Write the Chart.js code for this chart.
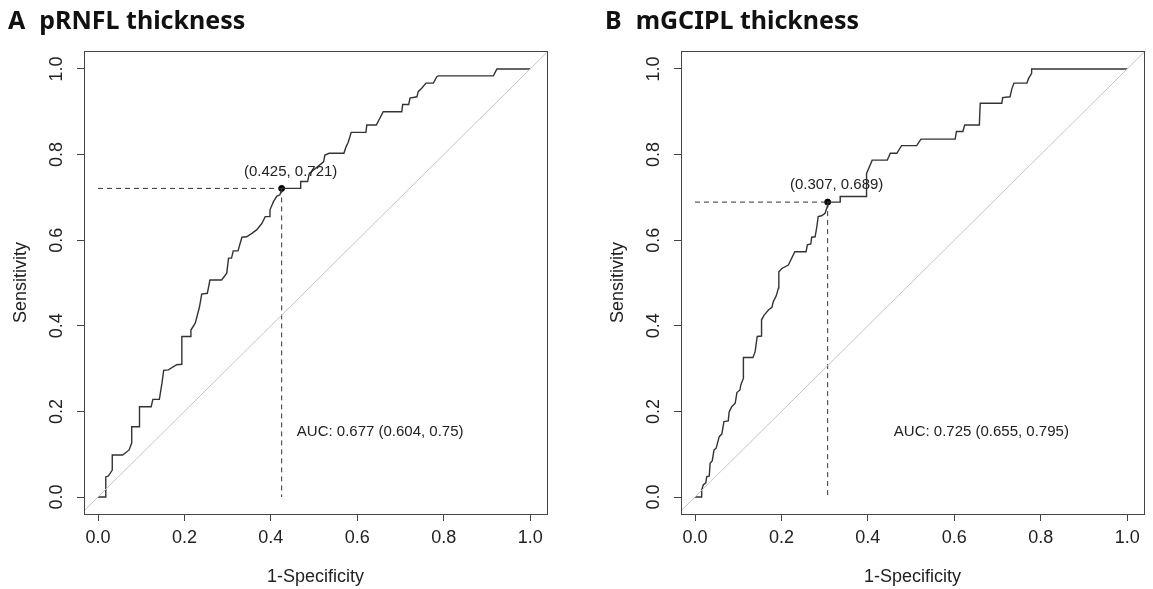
<!DOCTYPE html>
<html>
<head>
<meta charset="utf-8">
<script src="https://cdn.jsdelivr.net/npm/chart.js@4.4.1/dist/chart.umd.min.js"></script>
<style>
  html, body { margin: 0; padding: 0; background: #fff; }
  #wrap { position: relative; width: 1153px; height: 589px; overflow: hidden; }
  .panel { position: absolute; top: 0; width: 556px; height: 589px; }
  .panel canvas { position: absolute; left: 0; top: 0; }
  .ttl { position: absolute; left: 8px; top: 2px; font: bold 25px "Noto Sans", sans-serif; color: #111; white-space: nowrap; }
  .ttl .nm { margin-left: 14px; }
</style>
</head>
<body>
<div id="wrap">
  <div class="panel" style="left:0"><canvas id="rocA" width="556" height="589"></canvas><div class="ttl" id="ttlA"></div></div>
  <div class="panel" style="left:597px"><canvas id="rocB" width="556" height="589"></canvas><div class="ttl" id="ttlB"></div></div>
</div>
<script>
// axis ticks
const tickValues = [0, 0.2, 0.4, 0.6, 0.8, 1.0];
const tickLabels = ['0.0', '0.2', '0.4', '0.6', '0.8', '1.0'];

// panel A: pRNFL thickness (1-specificity, sensitivity)
const fprA = [0, 0.018, 0.018, 0.024, 0.033, 0.033, 0.057, 0.072, 0.078, 0.078, 0.096, 0.096,
  0.123, 0.127, 0.142, 0.148, 0.152, 0.163, 0.182, 0.194, 0.194, 0.213, 0.215, 0.225, 0.229,
  0.235, 0.240, 0.253, 0.259, 0.286, 0.298, 0.302, 0.309, 0.313, 0.324, 0.333, 0.344, 0.356,
  0.367, 0.379, 0.387, 0.397, 0.398, 0.406, 0.414, 0.421, 0.425, 0.469, 0.469, 0.485, 0.489,
  0.522, 0.525, 0.535, 0.569, 0.574, 0.579, 0.586, 0.620, 0.622, 0.644, 0.660, 0.703, 0.705,
  0.719, 0.722, 0.738, 0.741, 0.749, 0.759, 0.776, 0.784, 0.788, 0.915, 0.923, 1.0];
const tprA = [0, 0, 0.047, 0.049, 0.063, 0.098, 0.098, 0.110, 0.126, 0.164, 0.164, 0.211,
  0.211, 0.228, 0.228, 0.266, 0.296, 0.297, 0.309, 0.310, 0.375, 0.375, 0.390, 0.406, 0.421,
  0.445, 0.474, 0.476, 0.507, 0.507, 0.523, 0.558, 0.558, 0.575, 0.575, 0.607, 0.608, 0.616,
  0.624, 0.639, 0.655, 0.655, 0.671, 0.690, 0.703, 0.706, 0.721, 0.721, 0.737, 0.737, 0.756,
  0.783, 0.799, 0.803, 0.803, 0.818, 0.829, 0.852, 0.852, 0.869, 0.869, 0.900, 0.900, 0.917,
  0.917, 0.932, 0.935, 0.947, 0.955, 0.967, 0.967, 0.982, 0.984, 0.984, 1.0, 1.0];
const cutA = [0.425, 0.721];
const aucA = [0.677, 0.604, 0.75];

// panel B: mGCIPL thickness
const fprB = [0, 0.0155, 0.0155, 0.019, 0.025, 0.027, 0.033, 0.035, 0.040, 0.044, 0.049, 0.056,
  0.062, 0.067, 0.077, 0.079, 0.085, 0.093, 0.097, 0.104, 0.106, 0.112, 0.112, 0.134, 0.139,
  0.144, 0.154, 0.154, 0.160, 0.170, 0.178, 0.181, 0.188, 0.193, 0.194, 0.201, 0.216, 0.231,
  0.257, 0.260, 0.268, 0.270, 0.278, 0.282, 0.285, 0.293, 0.301, 0.306, 0.307, 0.336, 0.336,
  0.396, 0.397, 0.410, 0.445, 0.452, 0.467, 0.478, 0.513, 0.523, 0.602, 0.605, 0.620, 0.624,
  0.658, 0.660, 0.710, 0.712, 0.729, 0.733, 0.738, 0.768, 0.772, 0.779, 0.779, 1.0];
const tprB = [0, 0, 0.016, 0.028, 0.033, 0.047, 0.049, 0.079, 0.085, 0.110, 0.114, 0.141,
  0.147, 0.176, 0.178, 0.199, 0.211, 0.219, 0.244, 0.250, 0.262, 0.277, 0.326, 0.326, 0.339,
  0.375, 0.376, 0.414, 0.425, 0.437, 0.443, 0.456, 0.470, 0.488, 0.526, 0.534, 0.542, 0.573,
  0.573, 0.589, 0.591, 0.607, 0.608, 0.632, 0.655, 0.657, 0.663, 0.678, 0.689, 0.689, 0.702,
  0.702, 0.756, 0.787, 0.787, 0.803, 0.803, 0.821, 0.821, 0.836, 0.836, 0.854, 0.854, 0.869,
  0.869, 0.920, 0.920, 0.933, 0.935, 0.953, 0.967, 0.967, 0.978, 0.990, 1.0, 1.0];
const cutB = [0.307, 0.689];
const aucB = [0.725, 0.655, 0.795];

const panelLetters = ['A', 'B'];
const panelTitles = ['pRNFL thickness', 'mGCIPL thickness'];

const FONT = '"Liberation Sans", Arial, sans-serif';
const TXT = '#222';
const LINE = '#333';

// box, rotated y labels, annotations
const rocDecor = {
  id: 'rocDecor',
  afterDraw(chart, args, opts) {
    const ctx = chart.ctx;
    const a = chart.chartArea;
    const xs = chart.scales.x, ys = chart.scales.y;
    ctx.save();
    ctx.strokeStyle = '#444';
    ctx.lineWidth = 1;
    ctx.strokeRect(Math.round(a.left) + 0.5, Math.round(a.top) + 0.5,
      Math.round(a.right - a.left), Math.round(a.bottom - a.top));

    ctx.fillStyle = TXT;
    ctx.font = '18px ' + FONT;
    ctx.textAlign = 'center';
    ctx.textBaseline = 'middle';
    ys.ticks.forEach((t, i) => {
      ctx.save();
      ctx.translate(a.left - 27, ys.getPixelForValue(t.value));
      ctx.rotate(-Math.PI / 2);
      ctx.fillText(tickLabels[i], 0, 0);
      ctx.restore();
    });

    const cut = opts.cut, auc = opts.auc;
    ctx.font = '15px ' + FONT;
    ctx.fillText('(' + cut[0].toFixed(3) + ', ' + cut[1].toFixed(3) + ')',
      xs.getPixelForValue(cut[0]) + 9, ys.getPixelForValue(cut[1]) - 17);
    ctx.textAlign = 'left';
    ctx.fillText('AUC: ' + auc[0] + ' (' + auc[1] + ', ' + auc[2] + ')',
      xs.getPixelForValue(0.46), ys.getPixelForValue(0.152));
    ctx.restore();
  }
};

function makeRoc(id, fpr, tpr, cut, auc) {
  const curve = fpr.map((x, i) => ({ x: x, y: tpr[i] }));
  const dashed = { showLine: true, borderColor: LINE, borderWidth: 1, borderDash: [5, 4], pointRadius: 0 };
  return new Chart(document.getElementById(id), {
    type: 'scatter',
    data: {
      datasets: [
        { data: [{ x: -0.1, y: -0.1 }, { x: 1.1, y: 1.1 }], showLine: true, borderColor: '#c4c4c4', borderWidth: 1, pointRadius: 0 },
        { data: curve, showLine: true, borderColor: LINE, borderWidth: 1.4, pointRadius: 0 },
        Object.assign({ data: [{ x: 0, y: cut[1] }, { x: cut[0], y: cut[1] }] }, dashed),
        Object.assign({ data: [{ x: cut[0], y: cut[1] }, { x: cut[0], y: 0 }] }, dashed),
        { data: [{ x: cut[0], y: cut[1] }], pointRadius: 3, backgroundColor: '#000', borderColor: '#000' }
      ]
    },
    options: {
      responsive: false,
      animation: false,
      events: [],
      layout: { padding: { left: 0, top: 51, right: 9, bottom: 0 } },
      plugins: {
        legend: { display: false },
        tooltip: { enabled: false },
        rocDecor: { cut: cut, auc: auc }
      },
      scales: {
        x: {
          type: 'linear', min: -0.0324, max: 1.039,
          afterFit: s => { s.height = 75; },
          afterBuildTicks: s => { s.ticks = tickValues.map(v => ({ value: v })); },
          ticks: { callback: (v, i) => tickLabels[i], font: { family: FONT, size: 18 }, color: TXT, padding: 6, autoSkip: false, maxRotation: 0 },
          grid: { drawOnChartArea: false, drawTicks: true, tickLength: 7, color: '#444' },
          border: { display: false },
          title: { display: true, text: '1-Specificity', font: { family: FONT, size: 18 }, color: TXT, padding: { top: 0, bottom: 1 } }
        },
        y: {
          type: 'linear', min: -0.0397, max: 1.042,
          afterFit: s => { s.width = 84; },
          afterBuildTicks: s => { s.ticks = tickValues.map(v => ({ value: v })); },
          ticks: { callback: (v, i) => tickLabels[i], color: 'rgba(0,0,0,0)', autoSkip: false, font: { family: FONT, size: 18 } },
          grid: { drawOnChartArea: false, drawTicks: true, tickLength: 7, color: '#444' },
          border: { display: false },
          title: { display: true, text: 'Sensitivity', font: { family: FONT, size: 18 }, color: TXT, padding: { top: 10, bottom: 0 } }
        }
      }
    },
    plugins: [rocDecor]
  });
}

['A', 'B'].forEach((k, i) => {
  const t = document.getElementById('ttl' + k);
  t.innerHTML = panelLetters[i] + '<span class="nm">' + panelTitles[i] + '</span>';
});

makeRoc('rocA', fprA, tprA, cutA, aucA);
makeRoc('rocB', fprB, tprB, cutB, aucB);
</script>
</body>
</html>
